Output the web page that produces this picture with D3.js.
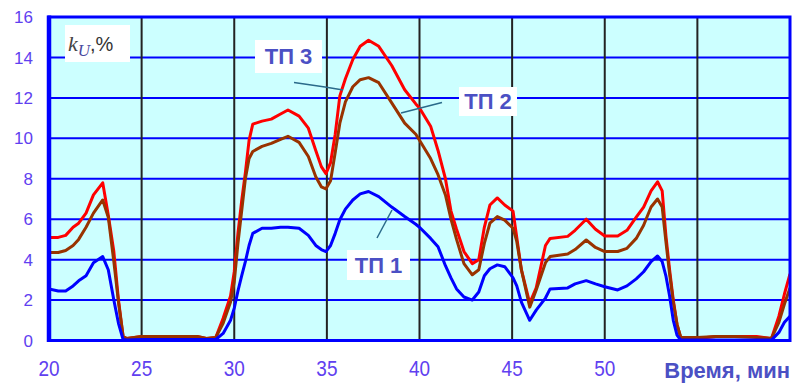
<!DOCTYPE html>
<html>
<head>
<meta charset="utf-8">
<script src="https://cdn.jsdelivr.net/npm/d3@7"></script>
<style>
  body { margin: 0; background: #fff; }
  svg { display: block; }
</style>
</head>
<body>
<div id="chart"></div>
<script>
const width = 794;
const height = 383;

// time, min
const time = [20, 20.5, 20.9, 21.3, 21.6, 22.0, 22.4, 22.9, 23.2, 23.5, 23.75, 24.0, 24.2, 25, 26, 27, 28, 28.5, 29, 29.4, 29.8, 30.0, 30.2, 30.4, 30.6, 30.8, 31.0, 31.5, 32.0, 32.5, 32.9, 33.5, 34.0, 34.4, 34.7, 34.95, 35.2, 35.45, 35.7, 36.0, 36.4, 36.8, 37.25, 37.8, 38.5, 39.2, 39.8, 40.0, 40.6, 41.0, 41.4, 41.7, 42.0, 42.4, 42.85, 43.2, 43.5, 43.8, 44.2, 44.6, 45.05, 45.25, 45.5, 45.95, 46.3, 46.8, 47.05, 48.0, 48.4, 49.0, 49.5, 50.0, 50.7, 51.2, 51.7, 52.1, 52.5, 52.85, 53.1, 53.3, 53.5, 53.7, 53.9, 54.1, 55, 56, 57, 58.2, 59.0, 59.4, 59.7, 60];

// ТП 1 (blue)
const tp1 = [2.55, 2.45, 2.45, 2.7, 2.95, 3.2, 3.85, 4.15, 3.5, 2.0, 0.85, 0.05, 0.02, 0.05, 0.05, 0.05, 0.05, 0.05, 0.05, 0.35, 1.0, 1.6, 2.45, 3.2, 3.9, 4.7, 5.3, 5.55, 5.55, 5.6, 5.6, 5.55, 5.2, 4.7, 4.5, 4.4, 4.7, 5.3, 5.97, 6.5, 6.95, 7.25, 7.37, 7.12, 6.6, 6.13, 5.75, 5.6, 5.05, 4.64, 3.7, 3.1, 2.55, 2.15, 2.0, 2.4, 3.2, 3.55, 3.74, 3.65, 3.1, 2.7, 1.9, 1.0, 1.5, 2.1, 2.55, 2.6, 2.8, 2.96, 2.8, 2.66, 2.5, 2.7, 3.05, 3.4, 3.9, 4.18, 3.9, 3.2, 2.2, 1.0, 0.27, 0.02, 0.02, 0.02, 0.02, 0.02, 0.02, 0.4, 0.9, 1.2];

// ТП 2 (brown)
const tp2 = [4.35, 4.35, 4.45, 4.7, 5.0, 5.6, 6.3, 6.95, 6.1, 3.9, 1.9, 0.2, 0.1, 0.2, 0.2, 0.2, 0.2, 0.1, 0.15, 0.85, 1.9, 2.9, 4.8, 6.4, 8.0, 9.0, 9.35, 9.6, 9.75, 9.95, 10.1, 9.8, 9.1, 8.1, 7.6, 7.5, 7.9, 9.3, 10.75, 11.8, 12.55, 12.9, 13.0, 12.75, 11.75, 10.75, 10.2, 9.9, 9.0, 8.2, 7.2, 6.0, 5.0, 3.8, 3.25, 3.5, 4.8, 5.8, 6.13, 5.95, 5.55, 4.9, 3.5, 1.65, 2.5, 3.85, 4.15, 4.28, 4.5, 4.97, 4.6, 4.4, 4.4, 4.56, 5.05, 5.7, 6.6, 7.0, 6.6, 4.9, 3.3, 1.9, 0.8, 0.15, 0.15, 0.2, 0.2, 0.15, 0.1, 0.9, 1.8, 2.6];

// ТП 3 (red)
const tp3 = [5.1, 5.1, 5.2, 5.6, 5.8, 6.3, 7.2, 7.8, 6.2, 4.4, 2.0, 0.2, 0.1, 0.2, 0.2, 0.2, 0.2, 0.1, 0.15, 1.1, 2.2, 3.4, 5.3, 6.9, 8.3, 9.9, 10.7, 10.85, 10.95, 11.2, 11.4, 11.1, 10.5, 9.4, 8.6, 8.25, 8.8, 10.2, 12.1, 12.95, 13.9, 14.55, 14.85, 14.55, 13.6, 12.4, 11.7, 11.5, 10.6, 9.4, 8.0, 6.4, 5.5, 4.4, 3.8, 4.0, 5.6, 6.7, 7.05, 6.7, 6.4, 5.1, 3.5, 1.85, 2.6, 4.7, 5.05, 5.15, 5.45, 6.0, 5.5, 5.17, 5.17, 5.45, 6.1, 6.6, 7.4, 7.85, 7.4, 5.2, 3.5, 2.0, 0.8, 0.15, 0.1, 0.2, 0.2, 0.2, 0.1, 1.2, 2.3, 3.3];

const xTicks = [20, 25, 30, 35, 40, 45, 50];
const xGrid = [25, 30, 35, 40, 45, 50, 55];
const yTicks = [0, 2, 4, 6, 8, 10, 12, 14, 16];

const series = [
  { name: "ТП 3", values: tp3, color: "#ff0000" },
  { name: "ТП 2", values: tp2, color: "#993300" },
  { name: "ТП 1", values: tp1, color: "#0000ff" }
];

const x = d3.scaleLinear().domain([20, 60]).range([49, 790]);
const y = d3.scaleLinear().domain([0, 16]).range([340.5, 17]);

const svg = d3.select("#chart")
    .append("svg")
    .attr("width", width)
    .attr("height", height);

// plot background
svg.append("rect")
    .attr("x", x(20)).attr("y", y(16))
    .attr("width", x(60) - x(20)).attr("height", y(0) - y(16))
    .attr("fill", "#ccffff");

svg.append("clipPath").attr("id", "clip")
  .append("rect")
    .attr("x", x(20)).attr("y", y(16))
    .attr("width", x(60) - x(20)).attr("height", y(0) - y(16));

// grid
svg.append("g").selectAll("line")
    .data(yTicks.filter(d => d > 0 && d < 16))
    .enter().append("line")
    .attr("x1", x(20)).attr("x2", x(60))
    .attr("y1", d => y(d)).attr("y2", d => y(d))
    .attr("stroke", "#0000ff")
    .attr("stroke-width", 2);

svg.append("g").selectAll("line")
    .data(xGrid)
    .enter().append("line")
    .attr("x1", d => x(d)).attr("x2", d => x(d))
    .attr("y1", y(16)).attr("y2", y(0))
    .attr("stroke", "#222")
    .attr("stroke-width", 2);

// curves
const line = d3.line()
    .x((d, i) => x(time[i]))
    .y(d => y(d));

svg.append("g").attr("clip-path", "url(#clip)")
  .selectAll("path")
    .data(series)
    .enter().append("path")
    .attr("d", d => line(d.values))
    .attr("fill", "none")
    .attr("stroke", d => d.color)
    .attr("stroke-width", 3)
    .attr("stroke-linejoin", "round");

// frame
svg.append("rect")
    .attr("x", x(20)).attr("y", y(16))
    .attr("width", x(60) - x(20)).attr("height", y(0) - y(16))
    .attr("fill", "none")
    .attr("stroke", "#0000ff")
    .attr("stroke-width", 3);
svg.append("line")
    .attr("x1", x(20)).attr("x2", x(20))
    .attr("y1", y(16) - 1.5).attr("y2", y(0) + 1.5)
    .attr("stroke", "#0000ff")
    .attr("stroke-width", 4.5);

// tick labels
const tickColor = "#6040f0";
svg.append("g").selectAll("text")
    .data(yTicks)
    .enter().append("text")
    .attr("x", 33)
    .attr("y", d => y(d))
    .attr("dy", "0.36em")
    .attr("text-anchor", "end")
    .attr("font-family", "Arial, 'Liberation Sans', sans-serif")
    .attr("font-size", 17)
    .attr("fill", tickColor)
    .text(d => d);

svg.append("g").selectAll("text")
    .data(xTicks)
    .enter().append("text")
    .attr("transform", d => `translate(${x(d)},376) scale(1,1.2)`)
    .attr("text-anchor", "middle")
    .attr("font-family", "Arial, 'Liberation Sans', sans-serif")
    .attr("font-size", 19)
    .attr("fill", tickColor)
    .text(d => d);

const labelColor = "#4b50c4";
svg.append("text")
    .attr("x", 790)
    .attr("y", 378)
    .attr("text-anchor", "end")
    .attr("font-family", "Arial, 'Liberation Sans', sans-serif")
    .attr("font-size", 22)
    .attr("font-weight", "bold")
    .attr("fill", labelColor)
    .text("Время, мин");

// y axis title box
svg.append("rect")
    .attr("x", 65).attr("y", 25).attr("width", 65).attr("height", 37)
    .attr("fill", "#fff");
const kt = svg.append("text")
    .attr("x", 68).attr("y", 51)
    .attr("font-size", 22);
kt.append("tspan")
    .attr("font-family", "'Liberation Serif', 'DejaVu Serif', serif")
    .attr("font-style", "italic")
    .attr("fill", "#444")
    .text("k");
kt.append("tspan")
    .attr("font-family", "'Liberation Serif', 'DejaVu Serif', serif")
    .attr("font-style", "italic")
    .attr("font-size", 17)
    .attr("dy", 5)
    .attr("fill", "#4a4aa0")
    .text("U");
kt.append("tspan")
    .attr("font-family", "Arial, 'Liberation Sans', sans-serif")
    .attr("font-size", 20)
    .attr("dy", -5)
    .attr("fill", "#333")
    .text(",%");

// series labels with leader lines
const labels = [
  { text: "ТП 3", box: [255, 40, 67, 33], lead: [[294, 82.5], [325, 87], [343, 90]] },
  { text: "ТП 2", box: [459, 87, 58, 29], lead: [[401, 113], [442, 102.5]] },
  { text: "ТП 1", box: [347, 250, 63, 30], lead: [[377, 238], [392, 210]] }
];

labels.forEach(l => {
  svg.append("path")
      .attr("d", d3.line()(l.lead))
      .attr("fill", "none")
      .attr("stroke", "#2a6a8a")
      .attr("stroke-width", 1.5);
  svg.append("rect")
      .attr("x", l.box[0]).attr("y", l.box[1])
      .attr("width", l.box[2]).attr("height", l.box[3])
      .attr("fill", "#fff");
  svg.append("text")
      .attr("x", l.box[0] + l.box[2] / 2)
      .attr("y", l.box[1] + l.box[3] / 2)
      .attr("dy", "0.36em")
      .attr("text-anchor", "middle")
      .attr("font-family", "Arial, 'Liberation Sans', sans-serif")
      .attr("font-size", 22)
      .attr("font-weight", "bold")
      .attr("fill", labelColor)
      .text(l.text);
});
</script>
</body>
</html>
